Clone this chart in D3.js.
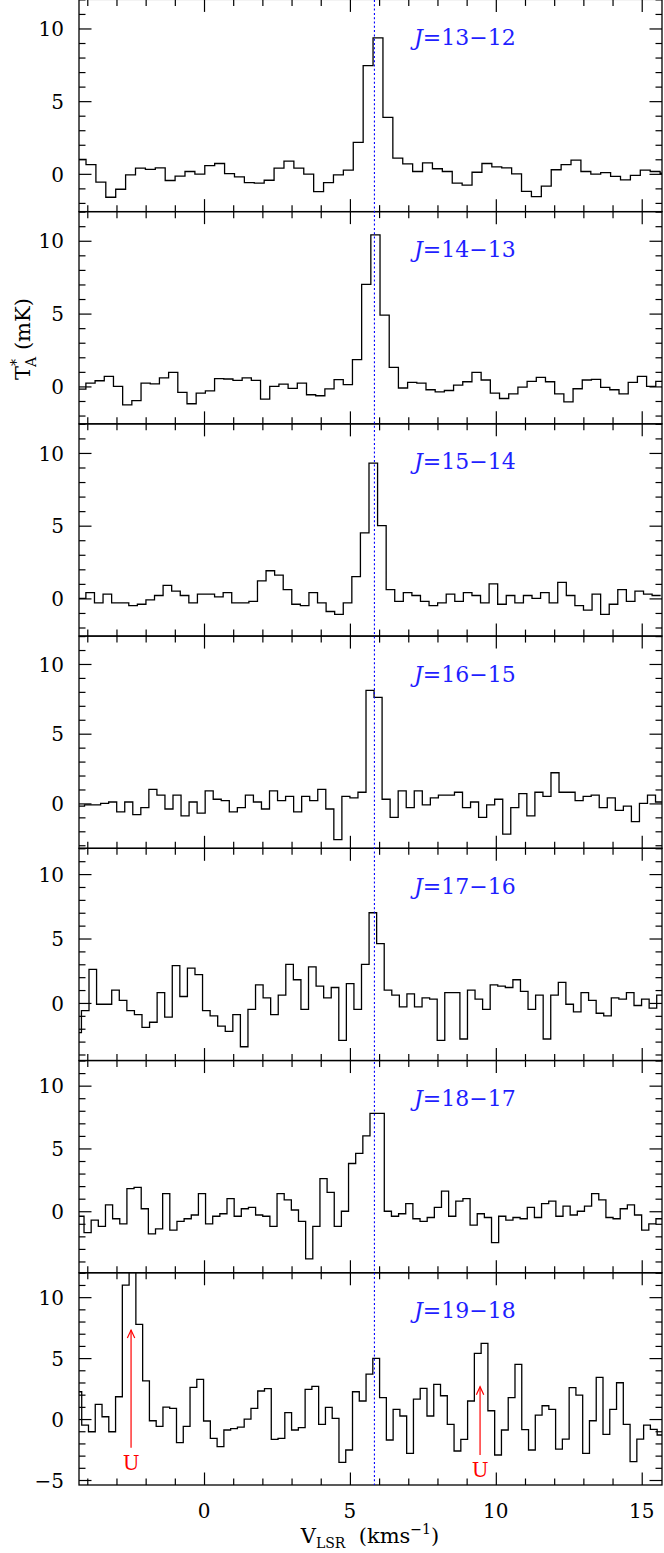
<!DOCTYPE html>
<html><head><meta charset="utf-8">
<script src="https://cdn.jsdelivr.net/npm/d3@7"></script>
<style>body{margin:0;background:#fff}svg{display:block}</style>
</head><body>
<script>
// ---------------- data ----------------
const transitions = ["13−12","14−13","15−14","16−15","17−16","18−17","19−18"];
const yMinByPanel = [-2.6,-2.57,-2.59,-3.22,-4.47,-4.9,-5.41];
const yMaxAll = 12;
const xDomain = [-4.284, 15.695];
const velocityMajorTicks = [0,5,10,15];
const tempMajorTicks = [-5,0,5,10];
const systemicVelocity = 5.84;
// first channel left edge (km/s) and channel width (km/s)
const chanStart = [-4.383,-4.363,-4.342,-4.37,-4.46,-4.357,-4.423];
const chanWidth = [0.3392,0.315,0.294,0.2756,0.2594,0.245,0.232];

const t13_12 = [1.0,0.64,-0.57,-1.61,-1.06,-0.07,0.39,0.30,0.41,-0.46,-0.16,0.16,-0.02,0.57,0.71,0.02,-0.21,-0.60,-0.64,-0.44,0.39,0.88,0.39,-0.02,-1.22,-0.60,-0.07,0.26,2.17,7.44,9.35,3.89,1.08,0.69,0.16,0.76,0.35,0.16,-0.64,-0.78,0.11,0.71,0.48,0.41,0.0,-1.2,-1.57,-0.85,0.28,0.64,0.94,0.16,-0.02,0.09,-0.18,-0.41,-0.11,0.26,0.16,0.04];
const t14_13 = [-0.18,0.23,0.39,0.69,0.0,-1.26,-0.97,0.23,0.18,0.58,0.97,-0.41,-1.19,-0.46,-0.30,0.53,0.51,0.41,0.58,0.41,-0.87,0.0,0.16,-0.14,0.23,-0.57,-0.64,-0.17,0.46,0.12,1.84,7.01,10.41,4.9,1.31,-0.11,0.28,0.23,-0.23,-0.37,-0.28,0.09,0.32,0.97,0.44,-0.46,-0.83,-0.51,-0.05,0.35,0.62,0.32,-0.51,-1.06,-0.16,0.44,0.48,-0.07,-0.23,-0.51,0.28,0.69,0.0,0.35];
const t15_14 = [0.0,0.4,-0.3,0.3,-0.3,-0.3,-0.5,-0.4,-0.1,0.2,0.9,0.5,0.2,-0.3,0.3,0.3,0.1,0.4,-0.3,-0.3,-0.2,1.2,1.9,1.6,0.6,-0.4,-0.5,0.4,-0.3,-0.9,-1.1,-0.3,1.5,4.5,9.3,5.0,0.6,-0.2,0.4,0.2,-0.2,-0.5,-0.3,0.3,-0.2,0.4,0.2,-0.3,1.0,-0.4,0.2,-0.3,0.2,0.0,0.4,-0.3,1.1,0.2,-0.5,-0.8,0.3,-1.1,-0.4,0.6,-0.2,0.5,0.3,0.2];
const t16_15 = [-0.2,-0.1,-0.1,0.0,0.1,-0.6,0.1,-0.8,-0.3,1.0,0.6,-0.4,0.6,-0.9,0.1,-0.7,0.9,0.3,0.2,-0.6,-0.3,0.6,0.1,-0.4,0.9,0.2,0.5,-0.6,0.5,0.2,1.0,-0.4,-2.6,0.5,0.4,0.8,8.1,7.6,0.3,-1.0,0.9,-0.3,0.9,-0.1,0.4,0.6,0.6,0.8,-0.3,0.1,-1.0,-0.1,0.3,-2.2,-0.3,0.7,-0.9,0.8,0.5,2.2,0.8,0.8,0.2,0.5,0.6,-0.3,0.4,-0.5,-0.2,-1.3,0.0,0.6,0.1];
const t17_16 = [-2.3,-0.6,2.6,-0.1,-0.1,1.0,0.2,-0.6,-0.9,-1.9,-1.5,0.8,-1.1,2.9,0.5,2.7,2.2,-0.6,-1.0,-1.8,-2.2,-0.9,-3.4,-0.5,1.4,0.4,-0.9,0.6,3.0,1.8,-0.5,2.8,1.3,0.4,1.2,-2.9,1.5,-0.5,3.0,7.0,4.6,1.0,0.6,-0.3,0.7,-0.3,0.4,0.3,-2.9,0.8,0.8,-2.8,1.0,0.3,-0.5,1.4,1.3,1.2,1.8,0.9,-0.5,0.6,-2.8,0.6,1.6,-0.1,-0.7,0.8,0.2,-0.8,-1.0,0.4,0.3,0.8,-0.2,0.3,-0.4,0.6];
const t18_17 = [-0.4,-1.7,-0.7,-1.2,0.5,-0.6,-1.0,1.8,1.9,0.2,-1.8,-1.4,1.4,-1.5,-0.8,-0.6,-0.3,1.4,-1.0,-0.4,-0.2,1.0,-0.4,0.2,0.3,-0.3,-0.4,-1.2,1.4,0.9,0.1,-0.8,-3.8,-1.2,2.6,1.5,-1.2,0.0,3.8,4.6,6.0,7.8,7.8,0.0,-0.4,-0.2,0.6,-0.6,-0.8,-0.5,0.3,1.6,-0.4,0.8,1.0,-1.1,-0.2,-0.5,-2.5,-0.4,-0.7,-0.5,-0.6,0.3,-0.5,0.6,0.8,-0.4,0.4,-0.3,0.0,0.4,1.4,0.9,-0.5,-0.6,0.2,0.5,-0.3,-1.5,-1.0,-0.6];
const t19_18 = [2.24,-0.49,-1.04,1.2,0.19,-1.04,1.83,10.98,13.5,7.76,3.14,-0.14,-0.6,0.98,0.87,-1.94,-0.6,2.6,3.25,-0.16,-1.58,-2.27,-0.9,-0.78,-0.67,0.0,0.87,2.3,2.5,-1.67,-1.58,0.52,-0.9,-0.7,2.43,2.68,-0.44,0.96,0.05,-3.55,-2.54,2.24,1.48,3.69,4.97,1.75,-1.72,0.79,0.25,-2.81,1.64,2.52,0.25,2.84,1.91,-0.44,-2.62,-1.67,1.48,5.38,6.2,0.68,-2.95,-0.9,1.75,4.48,-0.87,-2.54,0.33,1.09,0.79,-2.46,-1.64,2.57,1.97,-2.81,-0.14,3.42,-1.26,0.79,2.98,-0.44,-3.5,-1.64,-0.49,-0.85,-1.31];
const spectra = [t13_12,t14_13,t15_14,t16_15,t17_16,t18_17,t19_18];

// unidentified-line markers in the J=19-18 panel
const uVel = [-2.5, 9.46];
const uArrowFrom = [-2.35, -2.95];
const uArrowTo = [7.3, 2.65];
const uLabelY = [-4.18, -4.73];

// ---------------- layout ----------------
const W=664,H=1553;
const left=79,right=662,top0=-0.6,bottom=1485;
const nP=transitions.length, ph=(bottom-top0)/nP;
const FONT="DejaVu Serif";

const svg=d3.select("body").append("svg").attr("width",W).attr("height",H)
  .attr("font-family",FONT);
const x=d3.scaleLinear().domain(xDomain).range([left,right]);
const xMinor=d3.range(Math.ceil(xDomain[0]),Math.floor(xDomain[1])+1).filter(v=>!velocityMajorTicks.includes(v));
const defs=svg.append("defs");
let yLast=null;

spectra.forEach((vals,i)=>{
  const t=top0+i*ph;
  const y=d3.scaleLinear().domain([yMinByPanel[i],yMaxAll]).range([t+ph,t]);
  if(i===nP-1) yLast=y;
  const g=svg.append("g");
  defs.append("clipPath").attr("id","c"+i).append("rect")
    .attr("x",left).attr("y",t).attr("width",right-left).attr("height",ph);
  const pts=vals.map((v,k)=>[chanStart[i]+k*chanWidth[i],v]);
  pts.push([chanStart[i]+vals.length*chanWidth[i],vals[vals.length-1]]);
  g.append("path").attr("clip-path","url(#c"+i+")")
    .attr("d",d3.line().x(d=>x(d[0])).y(d=>y(d[1])).curve(d3.curveStepAfter)(pts))
    .attr("fill","none").attr("stroke","#000").attr("stroke-width",1.3);

  const yMinorT=d3.range(Math.ceil(yMinByPanel[i]),yMaxAll+1).filter(v=>v%5!==0);
  const yMajorT=tempMajorTicks.filter(v=>v>=yMinByPanel[i]&&v<=yMaxAll);
  const axL=(vals,len,lab)=>d3.axisLeft(y).tickValues(vals).tickSize(-len).tickPadding(15)
      .tickFormat(lab?(d=>d<0?"−"+(-d):String(d)):"");
  const axR=(vals,len)=>d3.axisRight(y).tickValues(vals).tickSize(-len).tickFormat("");
  [[axL(yMinorT,6.5,false),left],[axL(yMajorT,12.5,true),left],[axR(yMinorT,6.5),right],[axR(yMajorT,12.5),right]]
   .forEach(([a,xx])=>{
     const ga=g.append("g").attr("transform",`translate(${xx},0)`).call(a);
     ga.select(".domain").remove();
     ga.selectAll("line").attr("stroke","#000").attr("stroke-width",1.2);
     ga.selectAll("text").attr("font-size",20).attr("font-family",FONT).attr("fill","#000")
       .attr("dy","0.36em").attr("x",-15);
   });
  [[d3.axisTop,t],[d3.axisBottom,t+ph]].forEach(([f,yy])=>{
    [[xMinor,6.5],[velocityMajorTicks,12.5]].forEach(([tv,len])=>{
      const ax=f(x).tickValues(tv).tickSize(-len).tickFormat("");
      const ga=g.append("g").attr("transform",`translate(0,${yy})`).call(ax);
      ga.select(".domain").remove();
      ga.selectAll("line").attr("stroke","#000").attr("stroke-width",1.2);
    });
  });
  g.append("rect").attr("x",left).attr("y",t).attr("width",right-left).attr("height",ph)
   .attr("fill","none").attr("stroke","#000").attr("stroke-width",1.3);
  const tx=g.append("text").attr("x",414).attr("y",t+45.5).attr("font-size",22)
    .attr("fill","#1f1fff");
  tx.append("tspan").attr("font-style","italic").text("J");
  tx.append("tspan").text("="+transitions[i]);
});

svg.append("g").selectAll("text").data(velocityMajorTicks).join("text")
  .attr("x",d=>x(d)).attr("y",1518).attr("text-anchor","middle")
  .attr("font-size",20).text(d=>d);

svg.append("line").attr("x1",x(systemicVelocity)).attr("x2",x(systemicVelocity))
  .attr("y1",0).attr("y2",bottom).attr("stroke","#0000ff").attr("stroke-width",1.1)
  .attr("stroke-dasharray","2,2.3");

uVel.forEach((v,k)=>{
  const xx=x(v),y1=yLast(uArrowFrom[k]),y2=yLast(uArrowTo[k]);
  svg.append("line").attr("x1",xx).attr("x2",xx).attr("y1",y1).attr("y2",y2)
    .attr("stroke","#ff0000").attr("stroke-width",1.2);
  svg.append("path").attr("d",`M${xx-3.7},${y2+8}L${xx},${y2}L${xx+3.7},${y2+8}`)
    .attr("fill","none").attr("stroke","#ff0000").attr("stroke-width",1.2);
  svg.append("text").attr("x",xx).attr("y",yLast(uLabelY[k])).attr("text-anchor","middle")
    .attr("font-size",20).attr("fill","#ff0000").text("U");
});

const xt=svg.append("text").attr("x",370).attr("y",1543).attr("text-anchor","middle").attr("font-size",21);
xt.append("tspan").text("V");
xt.append("tspan").attr("font-size",14).attr("dy",5).text("LSR");
xt.append("tspan").attr("dy",-5).text("\u00a0\u00a0(kms");
xt.append("tspan").attr("font-size",14).attr("dy",-9).text("−1");
xt.append("tspan").attr("dy",9).text(")");

const yt=svg.append("text").attr("transform","translate(30,339) rotate(-90)")
  .attr("text-anchor","middle").attr("font-size",21);
yt.append("tspan").text("T");
yt.append("tspan").attr("font-size",14).attr("dy",-9).text("*");
yt.append("tspan").attr("font-size",14).attr("dy",15).attr("dx",-8).text("A");
yt.append("tspan").attr("dy",-6).text("\u00a0(mK)");
</script>
</body></html>
